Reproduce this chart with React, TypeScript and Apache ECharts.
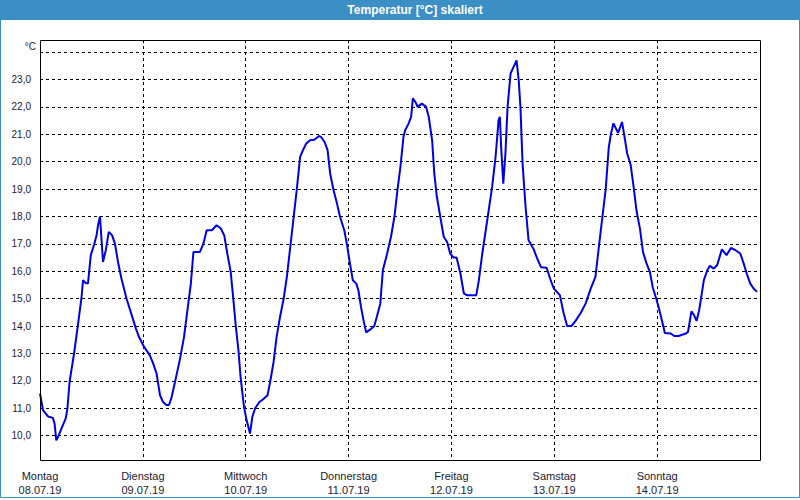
import React, { useEffect, useRef } from "react";
import * as echarts from "echarts";

// Hours since Monday 08.07.19 00:00
const HOURS = [
  0, 0.7, 1.9, 3.0, 3.4, 3.8, 4.2, 5.0, 6.0, 6.4, 6.9, 7.95, 8.9, 9.7, 10.05, 10.7, 11.2, 11.85, 12.6, 13.2,
  13.55, 14.0, 14.7, 15.35, 16.05, 16.8, 17.5, 18.2, 19.0, 20.2, 21.4, 22.4, 23.1, 24.3, 25.6, 26.4, 27.2, 28.0,
  28.7, 29.5, 30.1, 30.7, 31.5, 32.6, 33.6, 34.6, 35.2, 35.8, 37.3, 38.1, 38.9, 40.1, 41.2, 42.2, 43.0, 43.7,
  44.5, 45.1, 45.7, 46.3, 46.8, 47.6, 48.2, 49.0, 49.55, 50.2, 51.2, 52.0, 53.1, 53.7, 54.5, 55.2, 56.0, 56.8,
  57.6, 58.4, 59.1, 59.9, 60.7, 61.3, 62.1, 63.0, 64.0, 65.1, 65.6, 66.4, 67.1, 67.7, 68.5, 69.3, 70.0, 71.0,
  71.6, 72.2, 73.0, 73.8, 74.3, 74.9, 75.5, 76.1, 77.1, 78.0, 78.6, 79.4, 80.0, 81.0, 81.9, 82.7, 83.4, 84.1,
  84.8, 85.2, 86.0, 86.6, 87.0, 87.6, 88.1, 89.1, 90.1, 90.7, 91.5, 92.0, 92.6, 93.4, 94.2, 95.0, 95.7, 96.5,
  97.2, 98.1, 98.9, 99.6, 101.8, 102.4, 103.2, 103.9, 104.7, 105.5, 106.3, 107.0, 107.3, 107.6, 108.1, 108.6,
  109.1, 109.8, 110.5, 111.2, 111.7, 112.1, 112.6, 113.3, 114.0, 114.5, 115.2, 116.0, 116.9, 118.2, 119.1,
  119.9, 121.3, 122.2, 123.0, 124.0, 125.0, 126.1, 127.3, 128.5, 129.6, 130.4, 131.2, 132.0, 132.7, 133.2,
  133.8, 134.9, 135.8, 136.3, 137.0, 137.8, 138.5, 139.2, 140.0, 140.7, 141.5, 142.3, 143.0, 143.8, 144.5,
  145.2, 145.8, 147.2, 148.0, 149.0, 150.7, 151.2, 152.0, 152.6, 153.2, 153.8, 154.3, 154.9, 155.7, 156.3,
  157.2, 158.0, 159.1, 160.2, 161.2, 162.3, 163.4, 164.2, 164.9, 165.7, 166.5, 167.3,
];

const TEMPS = [
  11.54, 10.93, 10.7, 10.65, 10.44, 9.83, 9.95, 10.26, 10.63, 11.0, 11.97, 13.0, 14.1, 15.07, 15.68, 15.56, 15.56,
  16.59, 16.96, 17.32, 17.69, 18.0, 16.34, 16.77, 17.44, 17.32, 17.0, 16.34, 15.74, 15.0, 14.4, 13.9, 13.6, 13.24,
  12.94, 12.64, 12.27, 11.48, 11.23, 11.12, 11.12, 11.4, 11.96, 12.75, 13.6, 14.82, 15.55, 16.7, 16.7, 17.0, 17.5,
  17.5, 17.68, 17.56, 17.3, 16.65, 15.98, 15.0, 13.97, 13.12, 12.15, 11.05, 10.57, 10.08, 10.69, 11.0, 11.23,
  11.32, 11.48, 11.96, 12.69, 13.6, 14.33, 14.95, 15.8, 16.89, 17.86, 18.96, 20.18, 20.4, 20.66, 20.78, 20.8,
  20.94, 20.9, 20.72, 20.42, 19.57, 18.96, 18.47, 17.99, 17.5, 17.0, 16.4, 15.67, 15.55, 15.3, 14.7, 14.2, 13.77,
  13.88, 14.0, 14.34, 14.82, 16.04, 16.65, 17.26, 17.99, 18.96, 19.81, 20.9, 21.15, 21.39, 21.64, 22.31, 22.18,
  22.0, 22.12, 22.0, 21.64, 20.78, 19.57, 18.72, 17.99, 17.26, 17.07, 16.65, 16.5, 16.5, 15.92, 15.19, 15.13,
  15.13, 15.67, 16.65, 17.38, 18.23, 19.08, 20.18, 21.52, 21.64, 20.54, 19.2, 20.3, 22.0, 23.22, 23.46, 23.7,
  22.97, 22.0, 19.93, 18.35, 17.13, 17.0, 16.8, 16.47, 16.15, 16.13, 15.7, 15.37, 15.13, 14.46, 14.0, 14.0, 14.2,
  14.46, 14.82, 15.37, 15.8, 16.89, 17.95, 19.0, 20.5, 21.0, 21.4, 21.05, 21.45, 21.0, 20.3, 19.9, 19.1, 18.2,
  17.55, 16.7, 16.3, 15.98, 15.4, 15.0, 14.6, 14.15, 13.75, 13.73, 13.64, 13.64, 13.73, 13.79, 14.54, 14.4, 14.19,
  14.58, 15.07, 15.68, 16.04, 16.2, 16.1, 16.22, 16.8, 16.59, 16.85, 16.77, 16.65, 16.28, 15.92, 15.56, 15.37,
  15.25,
];

const DAY_NAMES = ["Montag", "Dienstag", "Mittwoch", "Donnerstag", "Freitag", "Samstag", "Sonntag"];
const DAY_DATES = ["08.07.19", "09.07.19", "10.07.19", "11.07.19", "12.07.19", "13.07.19", "14.07.19"];
const Y_LABEL_MIN = 10;
const Y_LABEL_MAX = 23;
const TITLE = "Temperatur [°C] skaliert";
const UNIT = "°C";

// layout constants
const W = 800;
const H = 500;
const PLOT_L = 40;
const PLOT_R = 760;
const PLOT_T = 40;
const PLOT_B = 460;
const Y10_PX = 435.7;
const PX_PER_DEG = 27.4;

const FONT = "'Liberation Sans', Arial, sans-serif";
const TEXT_COLOR = "#1a1a33";
const BLUE = "#3b8fc5";

export default function App() {
  const ref = useRef<HTMLDivElement>(null);

  useEffect(() => {
    if (!ref.current) return;
    const chart = echarts.init(ref.current, null, { renderer: "svg", width: W, height: H });

    const extTop = Y10_PX - 15 * PX_PER_DEG; // y of 25
    const extBottom = Y10_PX + PX_PER_DEG; // y of 9
    const y0Min = 10 - (PLOT_B - Y10_PX) / PX_PER_DEG;
    const y0Max = 10 + (Y10_PX - PLOT_T) / PX_PER_DEG;

    const dashed = { color: "#000", width: 1, type: [3, 3] as number[] };

    chart.setOption({
      animation: false,
      backgroundColor: "#ffffff",
      grid: [
        { left: PLOT_L, right: W - PLOT_R, top: PLOT_T, bottom: H - PLOT_B },
        { left: PLOT_L, right: W - PLOT_R, top: extTop, bottom: H - extBottom },
      ],
      xAxis: [
        {
          gridIndex: 0,
          type: "value",
          min: 0,
          max: 24 * DAY_NAMES.length,
          interval: 24,
          axisLine: { show: false },
          axisTick: { show: false },
          splitLine: { show: true, showMinLine: false, showMaxLine: false, lineStyle: dashed },
          axisLabel: {
            margin: 9,
            fontSize: 11,
            lineHeight: 14,
            fontFamily: FONT,
            color: TEXT_COLOR,
            formatter: (v: number) => {
              const i = Math.round(v / 24);
              return i < DAY_NAMES.length ? `${DAY_NAMES[i]}\n${DAY_DATES[i]}` : "";
            },
          },
        },
        { gridIndex: 1, type: "value", min: 0, max: 24 * DAY_NAMES.length, show: false },
      ],
      yAxis: [
        { gridIndex: 0, type: "value", min: y0Min, max: y0Max, show: false },
        {
          gridIndex: 1,
          type: "value",
          min: 9,
          max: 25,
          interval: 1,
          axisLine: { show: false },
          axisTick: { show: false },
          splitLine: { show: true, showMinLine: false, showMaxLine: false, lineStyle: dashed },
          axisLabel: {
            margin: 9,
            fontSize: 10,
            fontFamily: FONT,
            color: TEXT_COLOR,
            formatter: (v: number) =>
              v >= Y_LABEL_MIN && v <= Y_LABEL_MAX ? v.toFixed(1).replace(".", ",") : "",
          },
        },
      ],
      series: [
        {
          type: "line",
          xAxisIndex: 0,
          yAxisIndex: 0,
          data: HOURS.map((h, i) => [h, TEMPS[i]]),
          showSymbol: false,
          symbol: "none",
          clip: true,
          lineStyle: { color: "#0000e6", width: 2 },
          itemStyle: { color: "#0000e6" },
          z: 5,
        },
      ],
      graphic: [
        {
          type: "rect",
          shape: { x: 0, y: 0, width: W, height: 20 },
          style: { fill: BLUE },
          silent: true,
        },
        {
          type: "text",
          x: 415,
          y: 10,
          style: {
            text: TITLE,
            fill: "#ffffff",
            font: `bold 12px ${FONT}`,
            textAlign: "center",
            textVerticalAlign: "middle",
          },
          silent: true,
        },
        {
          type: "rect",
          shape: { x: 0.5, y: 0.5, width: W - 1, height: 497 },
          style: { fill: "none", stroke: BLUE, lineWidth: 1 },
          silent: true,
        },
        {
          type: "rect",
          shape: { x: PLOT_L + 0.5, y: PLOT_T + 0.5, width: PLOT_R - PLOT_L, height: PLOT_B - PLOT_T },
          style: { fill: "none", stroke: "#000", lineWidth: 1 },
          silent: true,
          z: 10,
        },
        {
          type: "text",
          x: 36,
          y: 46,
          style: {
            text: UNIT,
            fill: TEXT_COLOR,
            font: `10px ${FONT}`,
            textAlign: "right",
            textVerticalAlign: "middle",
          },
          silent: true,
        },
      ],
    });

    return () => chart.dispose();
  }, []);

  return <div ref={ref} style={{ position: "fixed", left: 0, top: 0, width: W, height: H }} />;
}
